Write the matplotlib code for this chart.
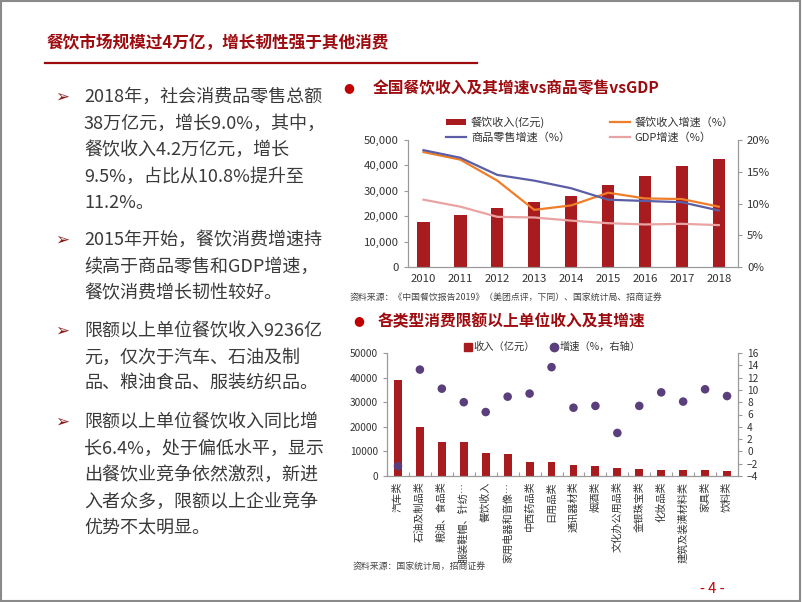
import matplotlib
matplotlib.use("Agg")
import matplotlib.pyplot as plt
from matplotlib.patches import Rectangle, Patch
from matplotlib.lines import Line2D
from matplotlib.ticker import FuncFormatter, MultipleLocator

plt.rcParams['font.family'] = ['Noto Sans CJK SC', 'DejaVu Sans']

# ---------------- data ----------------
years = ['2010', '2011', '2012', '2013', '2014', '2015', '2016', '2017', '2018']
catering_rev = [17600, 20500, 23400, 25400, 27800, 32300, 35800, 39600, 42700]
catering_growth = [18.1, 16.9, 13.6, 9.0, 9.7, 11.7, 10.8, 10.7, 9.5]
retail_growth = [18.4, 17.2, 14.5, 13.6, 12.4, 10.6, 10.4, 10.2, 8.9]
gdp_growth = [10.6, 9.5, 7.9, 7.8, 7.3, 6.9, 6.7, 6.8, 6.6]

categories = ['汽车类', '石油及制品类', '粮油、食品类', '服装鞋帽、针纺…', '餐饮收入',
              '家用电器和音像…', '中西药品类', '日用品类', '通讯器材类', '烟酒类',
              '文化办公用品类', '金银珠宝类', '化妆品类', '建筑及装潢材料类', '家具类', '饮料类']
cat_revenue = [38900, 19900, 13800, 13700, 9236, 8900, 5700, 5500, 4400, 3900,
               3300, 2800, 2600, 2400, 2300, 2100]
cat_growth = [-2.4, 13.3, 10.2, 8.0, 6.4, 8.9, 9.4, 13.7, 7.1, 7.4,
              3.0, 7.4, 9.6, 8.1, 10.1, 9.0]

title = '餐饮市场规模过4万亿，增长韧性强于其他消费'
chart1_title = '全国餐饮收入及其增速vs商品零售vsGDP'
chart2_title = '各类型消费限额以上单位收入及其增速'
source1 = '资料来源：《中国餐饮报告2019》（美团点评，下同）、国家统计局、招商证券'
source2 = '资料来源：国家统计局，招商证券'

bullets = [
    ['2018年，社会消费品零售总额', '38万亿元，增长9.0%，其中，', '餐饮收入4.2万亿元，增长',
     '9.5%，占比从10.8%提升至', '11.2%。'],
    ['2015年开始，餐饮消费增速持', '续高于商品零售和GDP增速，', '餐饮消费增长韧性较好。'],
    ['限额以上单位餐饮收入9236亿', '元，仅次于汽车、石油及制', '品、粮油食品、服装纺织品。'],
    ['限额以上单位餐饮收入同比增', '长6.4%，处于偏低水平，显示', '出餐饮业竞争依然激烈，新进',
     '入者众多，限额以上企业竞争', '优势不太明显。'],
]
bullet_tops = [97, 240, 331, 422]

# ---------------- styles ----------------
W, H = 802, 602
DARKRED = '#9e0b0f'
BAR = '#a81b1e'
ORANGE = '#f07d2a'
BLUE = '#5b5ea6'
PINK = '#eaa3a3'
PURPLE = '#5a3f7c'
TEXT = '#3a3a3a'
SPINE = '#9a9a9a'

fig = plt.figure(figsize=(W / 100, H / 100), dpi=100)
fig.patch.set_facecolor('white')


def fx(px):
    return px / W


def fy(py):
    return 1 - py / H


# frame
fig.add_artist(Rectangle((0.001, 0.001), 0.997, 0.997, transform=fig.transFigure,
                         fill=False, edgecolor='#8a8a8a', linewidth=1.5))

# title
fig.text(fx(47), fy(43), title, fontsize=12, fontweight='bold', color=DARKRED,
         ha='left', va='center')
fig.add_artist(Line2D([fx(45), fx(477)], [fy(63), fy(63)], transform=fig.transFigure,
                      color=DARKRED, linewidth=1.6))

# left text
line_h = 26.5
for top, lines in zip(bullet_tops, bullets):
    fig.text(fx(55), fy(top), '➢', fontsize=12, color='#8b1a1a', ha='left', va='center',
             family=['DejaVu Sans'])
    for i, ln in enumerate(lines):
        fig.text(fx(84), fy(top + i * line_h), ln, fontsize=13, color=TEXT,
                 ha='left', va='center')

# ---------------- chart 1 ----------------
fig.text(fx(349), fy(88), '●', fontsize=9, color='#c00000', ha='center', va='center',
         family=['DejaVu Sans'])
fig.text(fx(373), fy(88), chart1_title, fontsize=11.3, fontweight='bold', color=DARKRED,
         ha='left', va='center')

ax1 = fig.add_axes([fx(408), fy(267), fx(738) - fx(408), fy(140) - fy(267)])
x1 = list(range(len(years)))
bars1 = ax1.bar(x1, catering_rev, width=0.33, color=BAR, zorder=2)
ax1.set_ylim(0, 50000)
ax1.set_xlim(-0.42, 8.52)
ax1.yaxis.set_major_locator(MultipleLocator(10000))
ax1.yaxis.set_major_formatter(FuncFormatter(lambda v, p: f'{int(v):,}'))
ax1.set_xticks(x1)
ax1.set_xticklabels(years)
ax1.tick_params(axis='x', length=0, labelsize=8.2, pad=5, colors='#333333')
ax1.tick_params(axis='y', length=3, labelsize=8.2, colors='#333333', color=SPINE)
ax1.spines['top'].set_visible(False)
for s in ['left', 'bottom', 'right']:
    ax1.spines[s].set_color(SPINE)
    ax1.spines[s].set_linewidth(0.8)

ax1r = ax1.twinx()
l1, = ax1r.plot(x1, catering_growth, color=ORANGE, linewidth=1.6, zorder=3)
l2, = ax1r.plot(x1, retail_growth, color=BLUE, linewidth=1.6, zorder=3)
l3, = ax1r.plot(x1, gdp_growth, color=PINK, linewidth=1.6, zorder=3)
ax1r.set_ylim(0, 20)
ax1r.yaxis.set_major_locator(MultipleLocator(5))
ax1r.yaxis.set_major_formatter(FuncFormatter(lambda v, p: f'{int(v)}%'))
ax1r.tick_params(axis='y', length=3, labelsize=8.2, colors='#333333', color=SPINE)
ax1r.spines['top'].set_visible(False)
for s in ['left', 'bottom', 'right']:
    ax1r.spines[s].set_color(SPINE)
    ax1r.spines[s].set_linewidth(0.8)

h_bar = Patch(facecolor=BAR, edgecolor='none')
leg1 = fig.legend([h_bar, l2, l1, l3],
                  ['餐饮收入(亿元)', '商品零售增速（%）', '餐饮收入增速（%）', 'GDP增速（%）'],
                  ncol=2, loc='center', bbox_to_anchor=(fx(590), fy(129.5)),
                  bbox_transform=fig.transFigure, frameon=False, fontsize=8,
                  handlelength=1.8, handleheight=0.55, handletextpad=0.4,
                  columnspacing=3.6, labelspacing=0.35, borderpad=0)
for t in leg1.get_texts():
    t.set_color('#333333')

fig.text(fx(350), fy(298), source1, fontsize=6.4, color='#444444', ha='left', va='center')

# ---------------- chart 2 ----------------
fig.text(fx(359), fy(321), '●', fontsize=9, color='#c00000', ha='center', va='center',
         family=['DejaVu Sans'])
fig.text(fx(378), fy(321), chart2_title, fontsize=11.3, fontweight='bold', color=DARKRED,
         ha='left', va='center')

ax2 = fig.add_axes([fx(387), fy(476), fx(738) - fx(387), fy(353) - fy(476)])
x2 = list(range(len(categories)))
bars2 = ax2.bar(x2, cat_revenue, width=0.36, color=BAR, zorder=2)
ax2.set_ylim(0, 50000)
ax2.set_xlim(-0.47, 15.47)
ax2.yaxis.set_major_locator(MultipleLocator(10000))
ax2.set_xticks([i + 0.5 for i in range(-1, len(categories))])
ax2.set_xticklabels([])
ax2.set_xticks(x2, minor=True)
ax2.set_xticklabels(categories, minor=True, rotation=90, fontsize=7.3, color='#333333')
ax2.tick_params(axis='x', which='major', direction='in', length=3, color=SPINE)
ax2.tick_params(axis='x', which='minor', length=0, pad=4)
ax2.tick_params(axis='y', length=3, labelsize=7.3, colors='#333333', color=SPINE)
ax2.spines['top'].set_visible(False)
for s in ['left', 'bottom', 'right']:
    ax2.spines[s].set_color(SPINE)
    ax2.spines[s].set_linewidth(0.8)

ax2r = ax2.twinx()
sc = ax2r.scatter(x2, cat_growth, s=38, color=PURPLE, zorder=4, edgecolors='none')
ax2r.set_ylim(-4, 16)
ax2r.yaxis.set_major_locator(MultipleLocator(2))
ax2r.tick_params(axis='y', length=3, labelsize=7.3, colors='#333333', color=SPINE)
ax2r.spines['top'].set_visible(False)
for s in ['left', 'bottom', 'right']:
    ax2r.spines[s].set_color(SPINE)
    ax2r.spines[s].set_linewidth(0.8)

hs = Line2D([], [], marker='s', linestyle='none', color=BAR, markersize=6)
hc = Line2D([], [], marker='o', linestyle='none', color=PURPLE, markersize=6)
leg2 = fig.legend([hs, hc], ['收入（亿元）', '增速（%，右轴）'], ncol=2, loc='center',
                  bbox_to_anchor=(fx(553), fy(347)), bbox_transform=fig.transFigure,
                  frameon=False, fontsize=7.4, handlelength=0.6, handletextpad=0.2,
                  columnspacing=1.6, borderpad=0)
for t in leg2.get_texts():
    t.set_color('#333333')

fig.text(fx(353), fy(567), source2, fontsize=6.4, color='#444444', ha='left', va='center')

# page number
fig.text(fx(712), fy(589), '- 4 -', fontsize=10.5, color='#c00000', ha='center', va='center')

fig.savefig('out.png', dpi=100, facecolor='white')
